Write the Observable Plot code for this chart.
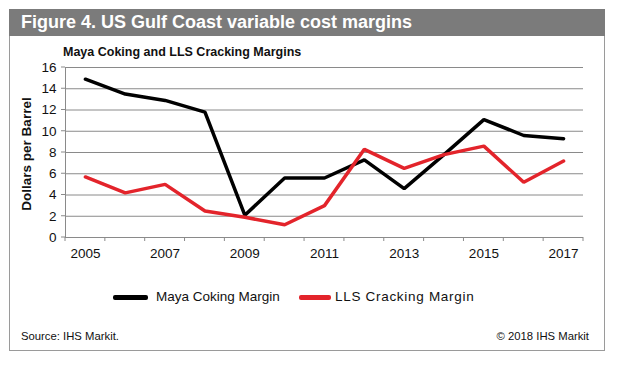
<!DOCTYPE html>
<html><head><meta charset="utf-8">
<script src="https://cdn.jsdelivr.net/npm/d3@7"></script>
<script src="https://cdn.jsdelivr.net/npm/@observablehq/plot@0.6"></script>
<style>
body{margin:0;background:#fff;font-family:"Liberation Sans",Arial,sans-serif;}
#wrap{position:relative;width:618px;height:365px;overflow:hidden;}
#frame{position:absolute;left:9px;top:9px;width:596px;height:342px;border:1px solid #9a9a9a;box-sizing:border-box;}
#header{position:absolute;left:9px;top:9px;width:596px;height:27px;background:#7b7b7b;color:#fff;font-weight:bold;font-size:18px;line-height:27px;padding-left:12px;box-sizing:border-box;}
.abs{position:absolute;white-space:nowrap;color:#111;}
#chart{position:absolute;left:0;top:40px;}
</style></head>
<body><div id="wrap">
<div id="frame"></div>
<div id="header">Figure 4. US Gulf Coast variable cost margins</div>
<div class="abs" style="left:63px;top:45px;font-size:12.5px;font-weight:bold;">Maya Coking and LLS Cracking Margins</div>
<div id="chart"></div>
<div class="abs" style="left:26px;top:154px;font-size:13.5px;font-weight:bold;transform:translate(-50%,-50%) rotate(-90deg);">Dollars per Barrel</div>
<div id="legend"></div>
<div class="abs" style="left:21px;top:330px;font-size:11.3px;">Source: IHS Markit.</div>
<div class="abs" style="right:29px;top:330px;font-size:11.3px;">© 2018 IHS Markit</div>
</div>
<script>
const years = [2005,2006,2007,2008,2009,2010,2011,2012,2013,2014,2015,2016,2017];
const mayaCoking = [14.9,13.5,12.9,11.8,2.1,5.6,5.6,7.3,4.6,7.8,11.1,9.6,9.3];
const llsCracking = [5.7,4.2,5.0,2.5,1.9,1.2,3.0,8.3,6.5,7.8,8.6,5.2,7.2];
const seriesNames = ["Maya Coking Margin","LLS Cracking Margin"];
const seriesColors = ["#000000","#e3242b"];
const yTicks = [0,2,4,6,8,10,12,14,16];
const xLabelYears = [2005,2007,2009,2011,2013,2015,2017];

const data = [];
years.forEach((y,i)=>{
  data.push({year:y, value:mayaCoking[i], series:seriesNames[0]});
  data.push({year:y, value:llsCracking[i], series:seriesNames[1]});
});
const x0 = years[0]-0.5, x1 = years[years.length-1]+0.5;
const boundaries = d3.range(x0, x1+0.01, 1);

const plot = Plot.plot({
  width:618, height:230,
  marginLeft:65, marginRight:35, marginTop:27, marginBottom:33,
  style:{fontFamily:"Liberation Sans, Arial, sans-serif", fontSize:"13px", color:"#111", background:"transparent", overflow:"visible"},
  x:{type:"linear", domain:[x0, x1], axis:null},
  y:{type:"linear", domain:[0,16], axis:null},
  color:{domain:seriesNames, range:seriesColors},
  marks:[
    Plot.ruleY(yTicks, {y:d=>d, stroke:"#8a8a8a", strokeWidth:1, strokeOpacity:1}),
    Plot.ruleX([x0], {x:d=>d, stroke:"#8a8a8a", strokeOpacity:1}),
    Plot.text(yTicks, {x:d=>x0, y:d=>d, text:d=>String(d), textAnchor:"end", dx:-9, fill:"#111", fontSize:13.5}),
    Plot.text(xLabelYears, {x:d=>d, y:d=>0, text:d=>String(d), dy:16, fill:"#111", fontSize:13.5}),
    Plot.line(data, {x:"year", y:"value", stroke:"series", z:"series", strokeWidth:3.5, strokeLinejoin:"miter"})
  ]
});
document.getElementById("chart").appendChild(plot);
const sx = plot.scale("x"), sy = plot.scale("y");
const svg = d3.select(plot);
svg.append("g").selectAll("line").data(boundaries).join("line")
  .attr("x1",d=>sx.apply(d)).attr("x2",d=>sx.apply(d))
  .attr("y1",sy.apply(0)).attr("y2",sy.apply(0)+4).attr("stroke","#8a8a8a");
svg.append("g").selectAll("line").data(yTicks).join("line")
  .attr("x1",sx.apply(x0)-4).attr("x2",sx.apply(x0))
  .attr("y1",d=>sy.apply(d)).attr("y2",d=>sy.apply(d)).attr("stroke","#8a8a8a");

const legend = d3.select("#legend");
const items = [{x:113,w:35,tx:156},{x:299,w:32,tx:335}];
seriesNames.forEach((n,i)=>{
  legend.append("div").attr("class","abs").style("left",items[i].x+"px").style("top","295px")
    .style("width",items[i].w+"px").style("height","5px").style("border-radius","2px").style("background",seriesColors[i]);
  legend.append("div").attr("class","abs").style("left",items[i].tx+"px").style("top","289px")
    .style("font-size","13.5px").style("letter-spacing", i===1?"0.7px":"0").text(n);
});
</script>
</body></html>
